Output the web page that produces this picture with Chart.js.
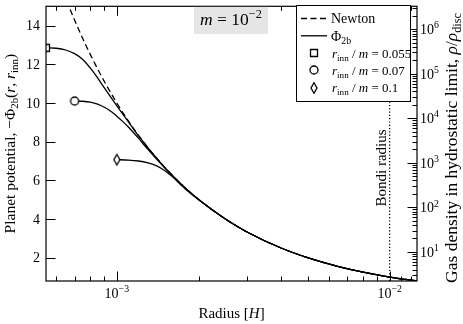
<!DOCTYPE html>
<html>
<head>
<meta charset="utf-8">
<title>Planet potential</title>
<script src="https://cdn.jsdelivr.net/npm/chart.js@4.4.0/dist/chart.umd.min.js"></script>
<style>
  html, body { margin: 0; padding: 0; background: #fff; }
</style>
</head>
<body>
<canvas id="myChart" width="463" height="324"></canvas>
<script>
// radius in units of H, potential -Phi (m = 1e-2)
var radius_newton = [6.0e-4, 6.5e-4, 7.0e-4, 7.5e-4, 8.0e-4, 9.0e-4, 1.0e-3, 1.1e-3, 1.2e-3, 1.35e-3, 1.5e-3, 1.75e-3, 2.0e-3, 2.5e-3, 3.0e-3, 4.0e-3, 5.0e-3, 6.5e-3, 8.0e-3, 1.0e-2, 1.26e-2];
var phi_newton = [16.67, 15.38, 14.29, 13.33, 12.5, 11.11, 10.0, 9.09, 8.33, 7.41, 6.67, 5.71, 5.0, 4.0, 3.33, 2.5, 2.0, 1.54, 1.25, 1.0, 0.794];

var radius_055 = [5.5e-4, 6.0e-4, 6.5e-4, 7.0e-4, 7.5e-4, 8.0e-4, 8.5e-4, 9.0e-4, 9.5e-4, 1.0e-3, 1.1e-3, 1.2e-3, 1.35e-3, 1.5e-3, 1.75e-3, 2.0e-3, 2.5e-3, 3.0e-3, 4.0e-3, 5.0e-3, 6.5e-3, 8.0e-3, 1.0e-2, 1.26e-2];
var phi_055 = [12.85, 12.83, 12.74, 12.55, 12.25, 11.8, 11.3, 10.78, 10.3, 9.85, 9.05, 8.31, 7.4, 6.66, 5.71, 5.0, 4.0, 3.33, 2.5, 2.0, 1.54, 1.25, 1.0, 0.794];

var radius_07 = [7.0e-4, 7.5e-4, 8.0e-4, 8.5e-4, 9.0e-4, 9.5e-4, 1.0e-3, 1.05e-3, 1.1e-3, 1.2e-3, 1.3e-3, 1.4e-3, 1.5e-3, 1.75e-3, 2.0e-3, 2.5e-3, 3.0e-3, 4.0e-3, 5.0e-3, 6.5e-3, 8.0e-3, 1.0e-2, 1.26e-2];
var phi_07 = [10.1, 10.09, 10.04, 9.94, 9.78, 9.57, 9.32, 9.05, 8.77, 8.18, 7.6, 7.1, 6.64, 5.7, 4.99, 4.0, 3.33, 2.5, 2.0, 1.54, 1.25, 1.0, 0.794];

var radius_01 = [1.0e-3, 1.1e-3, 1.2e-3, 1.3e-3, 1.4e-3, 1.5e-3, 1.6e-3, 1.7e-3, 1.8e-3, 2.0e-3, 2.5e-3, 3.0e-3, 4.0e-3, 5.0e-3, 6.5e-3, 8.0e-3, 1.0e-2, 1.26e-2];
var phi_01 = [7.07, 7.05, 7.0, 6.9, 6.75, 6.5, 6.18, 5.82, 5.5, 4.98, 4.0, 3.33, 2.5, 2.0, 1.54, 1.25, 1.0, 0.794];

var bondi_radius = 1e-2;
var x_min = 5.5e-4, x_max = 1.26e-2;
var y_min = 0.794, y_max = 15;

var x_ticks_major = [1e-3, 1e-2];
var x_tick_exps = ['−3', '−2'];
var x_ticks_minor = [6e-4, 7e-4, 8e-4, 9e-4, 2e-3, 3e-3, 4e-3, 5e-3, 6e-3, 7e-3, 8e-3, 9e-3, 1.1e-2, 1.2e-2];
var y_ticks = [2, 4, 6, 8, 10, 12, 14];
var rho_ticks_major = [1e1, 1e2, 1e3, 1e4, 1e5, 1e6];
var rho_tick_exps = ['1', '2', '3', '4', '5', '6'];

var legend_labels = ['0.055', '0.07', '0.1'];

var FONT = '"Liberation Serif", "DejaVu Serif", serif';

function pts(xs, ys) {
    return xs.map(function (x, i) { return {x: x, y: ys[i]}; });
}

function marker(kind) {
    var c = document.createElement('canvas');
    c.width = 12; c.height = 14;
    var g = c.getContext('2d');
    g.strokeStyle = '#000';
    g.fillStyle = '#fff';
    g.lineWidth = 1.3;
    g.beginPath();
    if (kind === 'square') {
        g.rect(2.5, 3.5, 7, 7);
    } else if (kind === 'circle') {
        g.arc(6, 7, 4, 0, Math.PI * 2);
    } else {
        g.moveTo(6, 1.8); g.lineTo(9, 7); g.lineTo(6, 12.2); g.lineTo(3, 7); g.closePath();
    }
    g.fill();
    g.stroke();
    return c;
}
var markers = [marker('square'), marker('circle'), marker('diamond')];

function firstOnly(r) {
    return function (ctx) { return ctx.dataIndex === 0 ? r : 0; };
}

// draws text with italics, sub- and superscripts
function rich(ctx, parts, x, y, size, align, angle) {
    ctx.save();
    ctx.translate(x, y);
    if (angle) ctx.rotate(angle);
    var items = [], total = 0;
    parts.forEach(function (p) {
        if (typeof p === 'string') p = {t: p};
        var fs = (p.sub || p.sup) ? size * 0.7 : size;
        var font = (p.i ? 'italic ' : '') + fs + 'px ' + FONT;
        ctx.font = font;
        var w = ctx.measureText(p.t).width;
        var dy = p.sub ? size * 0.22 : (p.sup ? -size * 0.4 : 0);
        items.push({t: p.t, font: font, w: w, dy: dy});
        total += w;
    });
    var cx = align === 'center' ? -total / 2 : (align === 'right' ? -total : 0);
    ctx.textAlign = 'left';
    ctx.textBaseline = 'alphabetic';
    ctx.fillStyle = '#000';
    items.forEach(function (it) {
        ctx.font = it.font;
        ctx.fillText(it.t, cx, it.dy);
        cx += it.w;
    });
    ctx.restore();
}

var decor = {
    id: 'decor',
    afterDatasetsDraw: function (chart) {
        var ctx = chart.ctx, a = chart.chartArea;
        var xs = chart.scales.x, ys = chart.scales.y, rs = chart.scales.y2;
        var big = 9.5, small = 4.5;
        ctx.save();
        ctx.strokeStyle = '#000';
        ctx.lineWidth = 1;
        ctx.beginPath();
        // x ticks, bottom and top, inward
        x_ticks_major.forEach(function (v) {
            var px = Math.round(xs.getPixelForValue(v)) + 0.5;
            ctx.moveTo(px, a.bottom); ctx.lineTo(px, a.bottom - big);
            ctx.moveTo(px, a.top); ctx.lineTo(px, a.top + big);
        });
        x_ticks_minor.forEach(function (v) {
            if (v > x_max) return;
            var px = Math.round(xs.getPixelForValue(v)) + 0.5;
            ctx.moveTo(px, a.bottom); ctx.lineTo(px, a.bottom - small);
            ctx.moveTo(px, a.top); ctx.lineTo(px, a.top + small);
        });
        // left linear ticks
        y_ticks.forEach(function (v) {
            var py = Math.round(ys.getPixelForValue(v)) + 0.5;
            ctx.moveTo(a.left, py); ctx.lineTo(a.left + big, py);
        });
        // right log ticks
        var rmin = rs.min, rmax = rs.max;
        for (var e = 0; e <= 6; e++) {
            for (var k = 1; k <= 9; k++) {
                var v = k * Math.pow(10, e);
                if (v < rmin || v > rmax) continue;
                var py = Math.round(rs.getPixelForValue(v)) + 0.5;
                ctx.moveTo(a.right, py); ctx.lineTo(a.right - (k === 1 ? big : small), py);
            }
        }
        ctx.stroke();

        // frame
        ctx.lineWidth = 1.2;
        ctx.strokeRect(a.left, a.top, a.right - a.left, a.bottom - a.top);

        // tick labels
        var fs = 14;
        x_ticks_major.forEach(function (v, i) {
            var px = xs.getPixelForValue(v);
            rich(ctx, ['10', {t: x_tick_exps[i], sup: 1}], px, 298, fs, 'center');
        });
        y_ticks.forEach(function (v) {
            var py = ys.getPixelForValue(v);
            rich(ctx, [String(v)], 40, py + 4.8, fs, 'right');
        });
        rho_ticks_major.forEach(function (v, i) {
            var py = rs.getPixelForValue(v);
            rich(ctx, ['10', {t: rho_tick_exps[i], sup: 1}], 420, py + 4.8, fs, 'left');
        });

        // axis titles
        rich(ctx, ['Radius [', {t: 'H', i: 1}, ']'], (a.left + a.right) / 2, 318, 15, 'center');
        rich(ctx, ['Planet potential, −Φ', {t: '2b', sub: 1}, '(', {t: 'r', i: 1}, ', ', {t: 'r', i: 1}, {t: 'inn', sub: 1}, ')'],
            15, (a.top + a.bottom) / 2, 15.5, 'center', -Math.PI / 2);
        rich(ctx, ['Gas density in hydrostatic limit, ', {t: 'ρ', i: 1}, '/', {t: 'ρ', i: 1}, {t: 'disc', sub: 1}],
            457, 148, 17.5, 'center', -Math.PI / 2);

        // Bondi radius label
        var bx = xs.getPixelForValue(bondi_radius);
        rich(ctx, ['Bondi radius'], bx - 4, 168, 15, 'center', -Math.PI / 2);

        // title box
        ctx.fillStyle = '#e5e5e5';
        ctx.fillRect(194, a.top + 0.6, 74, 27);
        rich(ctx, [{t: 'm', i: 1}, ' = 10', {t: '−2', sup: 1}], 231, 25, 17.5, 'center');

        // legend
        var lx = 296, ly = 5, lw = 114, lh = 96;
        ctx.fillStyle = '#fff';
        ctx.fillRect(lx, ly, lw, lh);
        ctx.strokeStyle = '#000';
        ctx.lineWidth = 1;
        ctx.strokeRect(lx + 0.5, ly + 0.5, lw, lh);
        var rowY = [18.5, 35.8, 53.1, 70.4, 87.7];
        ctx.lineWidth = 1.3;
        ctx.setLineDash([6, 3.5]);
        ctx.beginPath(); ctx.moveTo(301, rowY[0]); ctx.lineTo(327, rowY[0]); ctx.stroke();
        ctx.setLineDash([]);
        ctx.beginPath(); ctx.moveTo(301, rowY[1]); ctx.lineTo(327, rowY[1]); ctx.stroke();
        rich(ctx, ['Newton'], 331, rowY[0] + 4.8, 14, 'left');
        rich(ctx, ['Φ', {t: '2b', sub: 1}], 331, rowY[1] + 4.8, 14, 'left');
        legend_labels.forEach(function (t, i) {
            var m = markers[i];
            ctx.drawImage(m, 314 - m.width / 2, Math.round(rowY[i + 2] - m.height / 2));
            rich(ctx, [{t: 'r', i: 1}, {t: 'inn', sub: 1}, ' / ', {t: 'm', i: 1}, ' = ' + t], 332, rowY[i + 2] + 4.6, 13, 'left');
        });
        ctx.restore();
    }
};

var lineStyle = {
    borderColor: '#000',
    borderWidth: 1.3,
    fill: false,
    cubicInterpolationMode: 'monotone',
    pointBackgroundColor: '#fff',
    pointBorderColor: '#000'
};

new Chart('myChart', {
    type: 'line',
    data: {
        datasets: [
            Object.assign({}, lineStyle, {label: 'r/m=0.055', data: pts(radius_055, phi_055), pointStyle: markers[0], pointRadius: firstOnly(5), order: 1}),
            Object.assign({}, lineStyle, {label: 'r/m=0.07', data: pts(radius_07, phi_07), pointStyle: markers[1], pointRadius: firstOnly(5), order: 2}),
            Object.assign({}, lineStyle, {label: 'r/m=0.1', data: pts(radius_01, phi_01), pointStyle: markers[2], pointRadius: firstOnly(5), order: 3}),
            Object.assign({}, lineStyle, {label: 'Newton', data: pts(radius_newton, phi_newton), borderDash: [6, 3.5], pointRadius: 0, order: 4}),
            {label: 'Bondi', data: [{x: bondi_radius, y: y_min}, {x: bondi_radius, y: y_max}], borderColor: '#000', borderWidth: 1.3, borderDash: [1.2, 2.1], pointRadius: 0, order: 5}
        ]
    },
    options: {
        responsive: false,
        animation: false,
        layout: {padding: {left: 46, top: 3, right: 46, bottom: 43}},
        plugins: {legend: {display: false}, tooltip: {enabled: false}},
        scales: {
            x: {type: 'logarithmic', min: x_min, max: x_max, display: false},
            y: {type: 'linear', min: y_min, max: y_max, display: false},
            y2: {type: 'logarithmic', position: 'right', min: Math.exp(y_min), max: Math.exp(y_max), display: false}
        }
    },
    plugins: [decor]
});
</script>
</body>
</html>
